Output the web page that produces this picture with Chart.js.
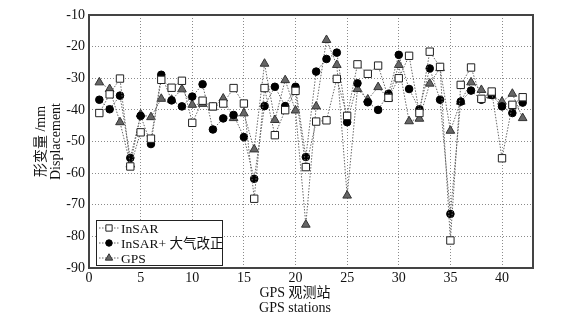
<!DOCTYPE html>
<html>
<head>
<meta charset="utf-8">
<script src="https://cdn.jsdelivr.net/npm/chart.js@4"></script>
<style>
  html, body { margin: 0; padding: 0; background: #fff; }
  #wrap { width: 574px; height: 318px; }
</style>
</head>
<body>
<div id="wrap"><canvas id="c" width="574" height="318"></canvas></div>
<script>
// GPS 站号
const stations = [1,2,3,4,5,6,7,8,9,10,11,12,13,14,15,16,17,18,19,20,21,
                  22,23,24,25,26,27,28,29,30,31,32,33,34,35,36,37,38,39,40,41,42];

const insar = [-41, -35.1, -30.1, -57.9, -47.1, -49.1, -30.5, -33, -30.8, -44.1, -37.1,
               -38.9, -38, -33.1, -38, -68.1, -33.1, -48, -40.1, -34, -58.1,
               -43.7, -43.3, -30.2, -41.9, -25.6, -28.6, -26, -36.2, -30, -22.9,
               -41, -21.6, -26.4, -81.3, -32.1, -26.6, -36.5, -34.2, -55.3, -38.4, -36];

const insarCorr = [-36.8, -39.8, -35.5, -55.2, -41.9, -50.8, -28.9, -37, -38.9, -35.8, -31.9,
                   -46.2, -42.7, -41.6, -48.6, -61.8, -38.8, -32.7, -38.8, -32.7, -54.9,
                   -27.9, -23.9, -21.9, -43.9, -31.6, -37.6, -40, -34.9, -22.6, -33.4,
                   -39.8, -26.9, -36.8, -72.9, -37.4, -33.9, -36.8, -35.3, -38.9, -41, -37.7];

const gps = [-31.3, -33.4, -43.9, -57.3, -41.4, -42.3, -36.5, -36.8, -33.5, -38.4, -38.1,
             -39.2, -36.4, -42.6, -41.1, -52.5, -25.4, -43.2, -30.6, -40.2, -76.3,
             -38.9, -17.9, -25.8, -67.1, -33.4, -36.7, -32.8, -36.4, -25.8, -43.6,
             -42.8, -31.7, -26.8, -46.6, -37.4, -31.3, -33.7, -35.5, -37.4, -34.9, -42.6];

const seriesNames = ['InSAR', 'InSAR+ 大气改正', 'GPS'];
const xTitle = ['GPS 观测站', 'GPS stations'];
const yTitle = ['形变量 /mm', 'Displacement'];

const serif = '"Liberation Serif", "Times New Roman", "Noto Sans CJK SC", serif';

function pts(vals) {
    return stations.map((s, i) => ({ x: s, y: vals[i] }));
}

const common = {
    borderColor: '#666',
    borderWidth: 1,
    borderDash: [1.5, 1.5],
    showLine: true,
    pointBorderWidth: 1
};

const datasets = [
    { ...common, label: seriesNames[0], data: pts(insar), pointStyle: 'rect', pointRadius: 5.2,
      pointBackgroundColor: '#fff', pointBorderColor: '#222' },
    { ...common, label: seriesNames[1], data: pts(insarCorr), pointStyle: 'circle', pointRadius: 3.8,
      pointBackgroundColor: '#000', pointBorderColor: '#000' },
    { ...common, label: seriesNames[2], data: pts(gps), pointStyle: 'triangle', pointRadius: 5,
      pointBackgroundColor: '#666', pointBorderColor: '#333' }
];

// 边框 + 图例 + x 轴标题
const framePlugin = {
    id: 'frame',
    afterDraw(chart) {
        const { ctx, chartArea: ca } = chart;
        ctx.save();
        ctx.strokeStyle = '#444';
        ctx.lineWidth = 2;
        ctx.setLineDash([]);
        ctx.strokeRect(ca.left, ca.top, ca.right - ca.left, ca.bottom - ca.top);

        // x axis title, sits a bit left of the axis centre in the original
        ctx.fillStyle = '#111';
        ctx.font = '14px ' + serif;
        ctx.textAlign = 'center';
        ctx.textBaseline = 'middle';
        const cx = (ca.left + ca.right) / 2 - 16;
        ctx.fillText(xTitle[0], cx, ca.bottom + 25);
        ctx.fillText(xTitle[1], cx, ca.bottom + 40);

        // legend box, bottom-left inside the axes
        const bx = ca.left + 7, bw = 126, bh = 45;
        const by = ca.bottom - bh - 3;
        ctx.fillStyle = '#fff';
        ctx.fillRect(bx, by, bw, bh);
        ctx.lineWidth = 1;
        ctx.strokeStyle = '#222';
        ctx.strokeRect(bx + 0.5, by + 0.5, bw, bh);
        ctx.font = '13.5px ' + serif;
        ctx.textAlign = 'left';
        chart.data.datasets.forEach((ds, i) => {
            const y = by + 8 + i * 15;
            ctx.strokeStyle = '#666';
            ctx.setLineDash([1.5, 1.5]);
            ctx.beginPath();
            ctx.moveTo(bx + 3, y);
            ctx.lineTo(bx + 23, y);
            ctx.stroke();
            ctx.setLineDash([]);
            ctx.fillStyle = ds.pointBackgroundColor;
            ctx.strokeStyle = ds.pointBorderColor;
            Chart.helpers.drawPoint(ctx, {
                pointStyle: ds.pointStyle,
                radius: ds.pointRadius * 0.85,
                rotation: 0,
                borderWidth: 1
            }, bx + 13, y);
            ctx.fillStyle = '#111';
            ctx.fillText(ds.label, bx + 25, y + 1);
        });
        ctx.restore();
    }
};

new Chart(document.getElementById('c'), {
    type: 'scatter',
    data: { datasets },
    options: {
        responsive: false,
        animation: false,
        layout: { padding: { left: 0, right: 41, top: 15, bottom: 0 } },
        plugins: { legend: { display: false }, tooltip: { enabled: false } },
        scales: {
            x: {
                type: 'linear',
                min: 0, max: 43,
                afterBuildTicks: s => { s.ticks = s.ticks.filter(t => t.value % 5 === 0); },
                afterFit: s => { s.height = 50; },
                ticks: { stepSize: 5, color: '#111', font: { family: serif, size: 14 }, padding: 2, maxRotation: 0 },
                grid: { color: 'rgba(110,110,110,0.8)', tickLength: 0 },
                border: { display: false, dash: [1, 2] }
            },
            y: {
                min: -90, max: -10,
                afterFit: s => { s.width = 89; },
                ticks: { stepSize: 10, color: '#111', font: { family: serif, size: 14 }, padding: 4 },
                grid: { color: 'rgba(110,110,110,0.8)', tickLength: 0 },
                border: { display: false, dash: [1, 2] },
                title: {
                    display: true,
                    text: yTitle,
                    color: '#111',
                    font: { family: serif, size: 14, lineHeight: 1.05 },
                    padding: { top: 34, bottom: 0 }
                }
            }
        }
    },
    plugins: [framePlugin]
});
</script>
</body>
</html>
